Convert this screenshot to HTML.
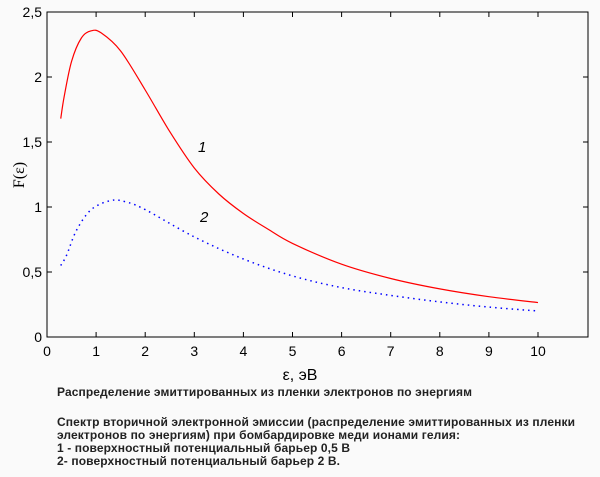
<!DOCTYPE html>
<html><head><meta charset="utf-8"><style>
body{margin:0;background:#fafafa;}
svg{display:block;font-family:"Liberation Sans",sans-serif;}
</style></head><body>
<svg id="s" width="600" height="477" xmlns="http://www.w3.org/2000/svg">
<rect width="600" height="477" fill="#fafafa"/>
<rect x="47" y="12" width="541" height="325" fill="none" stroke="#000" stroke-width="1"/>
<g id="ticks" stroke="#000" stroke-width="1"></g>
<g id="lab" font-size="14" fill="#000"></g>
<path id="r" fill="none" stroke="#ff0000" stroke-width="1.2"/>
<path id="b" fill="none" stroke="#0000ff" stroke-width="1.5" stroke-dasharray="1.5,4"/>
<text x="198" y="152" font-size="15" font-style="italic">1</text>
<text x="200" y="222" font-size="15" font-style="italic">2</text>
<text transform="translate(24,175) rotate(-90)" font-size="16" text-anchor="middle" font-family="Liberation Serif,serif">F(ε)</text>
<text x="300" y="380" font-size="16" text-anchor="middle">ε, эВ</text>
<g font-size="12" font-weight="bold" fill="#222" lengthAdjust="spacingAndGlyphs">
<text x="57" y="396" textLength="415">Распределение эмиттированных из пленки электронов по энергиям</text>
<text x="57" y="426" textLength="518">Спектр вторичной электронной эмиссии (распределение эмиттированных из пленки</text>
<text x="57" y="439" textLength="403">электронов по энергиям) при бомбардировке меди ионами гелия:</text>
<text x="57" y="452" textLength="293">1 - поверхностный потенциальный барьер 0,5 В</text>
<text x="57" y="465" textLength="283">2- поверхностный потенциальный барьер 2 В.</text>
</g>
</svg>
<script>
var X=v=>47+49.1*v, Y=v=>337-130*v;
var t=document.getElementById('ticks'),l=document.getElementById('lab'),ns="http://www.w3.org/2000/svg";
function ln(a,b,c,d){var e=document.createElementNS(ns,'line');e.setAttribute('x1',a);e.setAttribute('y1',b);e.setAttribute('x2',c);e.setAttribute('y2',d);t.appendChild(e);}
function tx(x,y,s,a){var e=document.createElementNS(ns,'text');e.setAttribute('x',x);e.setAttribute('y',y);e.setAttribute('text-anchor',a);e.textContent=s;l.appendChild(e);}
for(var i=0;i<=10;i++){var x=X(i);ln(x,337,x,332);ln(x,12,x,17);tx(x,356,i,'middle');}
for(var j=0;j<=5;j++){var y=Y(j/2);ln(47,y,52,y);ln(588,y,583,y);tx(42,y+5,(j/2+'').replace('.',','),'end');}
function path(p){var P=p.map(q=>[X(q[0]),Y(q[1])]);var d='M'+P[0];for(var i=0;i<P.length-1;i++){var a=P[i-1]||P[i],b=P[i],c=P[i+1],e=P[i+2]||c;d+='C'+(b[0]+(c[0]-a[0])/6)+','+(b[1]+(c[1]-a[1])/6)+' '+(c[0]-(e[0]-b[0])/6)+','+(c[1]-(e[1]-b[1])/6)+' '+c;}return d;}
document.getElementById('r').setAttribute('d',path([[0.28,1.68],[0.35,1.85],[0.5,2.12],[0.7,2.3],[0.9,2.355],[1.1,2.34],[1.5,2.2],[2,1.9],[2.5,1.58],[3,1.3],[3.5,1.1],[4,0.95],[4.5,0.83],[5,0.72],[6,0.56],[7,0.45],[8,0.37],[9,0.31],[10,0.265]]));
document.getElementById('b').setAttribute('d',path([[0.28,0.55],[0.4,0.63],[0.6,0.82],[0.9,0.98],[1.3,1.05],[1.6,1.04],[2,0.98],[3,0.77],[4,0.6],[5,0.47],[6,0.38],[7,0.32],[8,0.27],[9,0.23],[10,0.2]]));
</script>
</body></html>
